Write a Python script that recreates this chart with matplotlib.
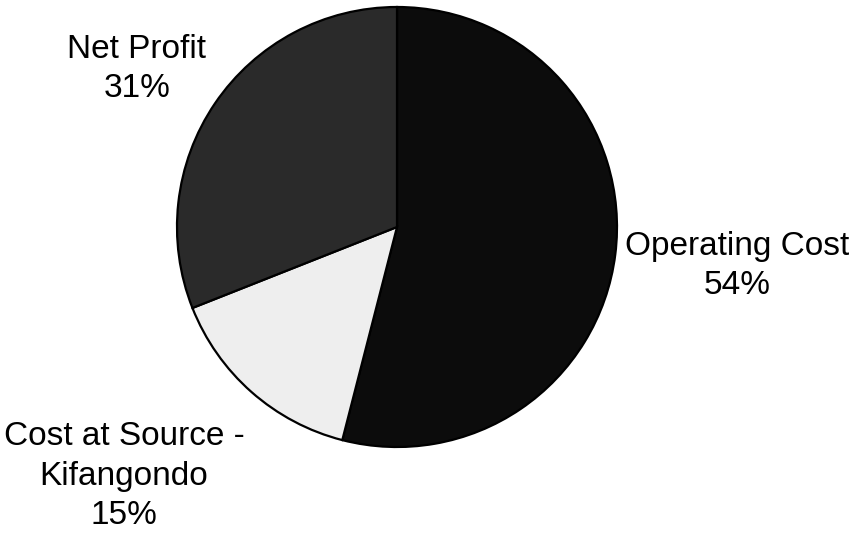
import matplotlib.pyplot as plt

# revenue split
categories = ["Operating Cost", "Cost at Source -\nKifangondo", "Net Profit"]
shares = [54, 15, 31]
colors = ["#0c0c0c", "#eeeeee", "#2a2a2a"]

# where each label block sits (pixel coords, origin bottom-left)
label_pos = [(737, 267), (124, 57), (137, 464)]

W, H = 853, 533
fig = plt.figure(figsize=(W / 100, H / 100), dpi=100)
ax = fig.add_axes([0, 0, 1, 1])

wedges, _ = ax.pie(shares, colors=colors, startangle=90, counterclock=False,
                   center=(397, H - 227), radius=220, frame=True,
                   wedgeprops=dict(edgecolor="black", linewidth=1.6))
ax.set_xlim(0, W)
ax.set_ylim(0, H)
ax.set_aspect("equal")
ax.axis("off")

for name, val, (x, y) in zip(categories, shares, label_pos):
    ax.text(x, y, f"{name}\n{val}%", ha="center", va="center",
            fontsize=24, family="Liberation Sans", linespacing=1.36,
            color="black")

fig.savefig("out.png", dpi=100, facecolor="white")
